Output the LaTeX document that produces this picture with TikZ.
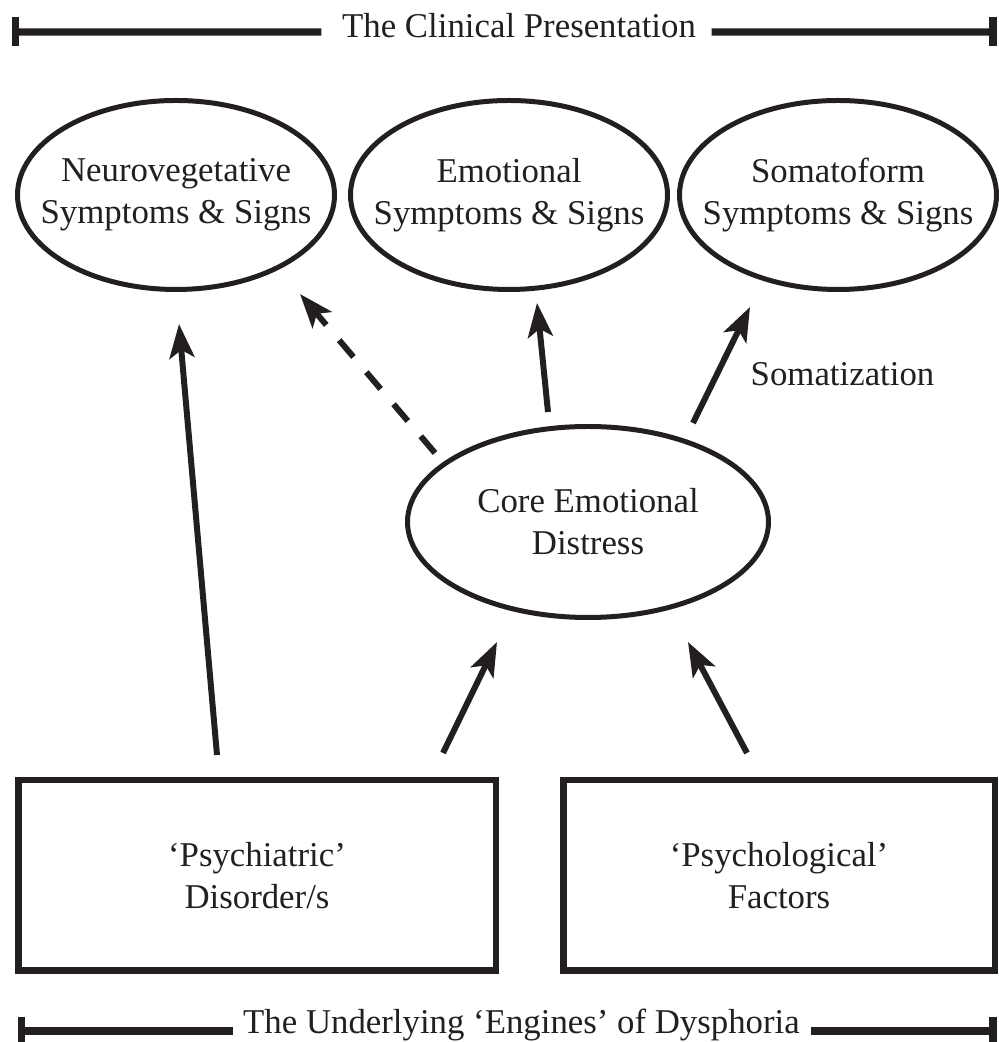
\documentclass[tikz,border=0pt]{standalone}
\usepackage{fontspec}
\setmainfont{Liberation Serif}
\usetikzlibrary{arrows.meta,
                shapes.geometric}
\definecolor{ink}{RGB}{35,31,32}

\begin{document}
\begin{tikzpicture}[
        font=\fontsize{9.9}{12}\selectfont,
        text=ink,
        symptom/.style={ellipse, draw=ink, line width=1.42pt, minimum width=3.17cm, minimum height=1.89cm, inner xsep=-0.3cm, inner ysep=0pt, align=center},
        distress/.style={ellipse, draw=ink, line width=1.42pt, minimum width=3.61cm, minimum height=1.91cm, inner sep=0pt, align=center},
        engine/.style={rectangle, draw=ink, line width=1.85pt, minimum height=1.905cm, align=center},
        arr/.style={draw=ink, line width=1.7pt, -{Stealth[length=0.34cm, width=0.25cm, inset=0.08cm]}},
        bracket/.style={draw=ink, line width=2pt, -{Bar[width=0.29cm]}}
    ]
        \useasboundingbox (0,0) rectangle (9.98,10.42);

        % top and bottom brackets
        \node [anchor=base, inner xsep=0.1cm] (clinical) at (5.19,10.04) {The Clinical Presentation};
        \coordinate (clinL) at (0.12,10.10);
        \coordinate (clinR) at (9.965,10.10);
        \draw [bracket, shorten <=0.1cm] ([yshift=0.06cm]clinical.base west) -- (clinL);
        \draw [bracket, shorten <=0.05cm] ([yshift=0.06cm]clinical.base east) -- (clinR);

        \node [anchor=base, inner xsep=0.1cm] (engines) at (5.215,0.09) {The Underlying ‘Engines’ of Dysphoria};
        \coordinate (engL) at (0.18,0.11);
        \coordinate (engR) at (9.965,0.11);
        \draw [bracket] ([yshift=0.02cm]engines.base west) -- (engL);
        \draw [bracket] ([yshift=0.02cm]engines.base east) -- (engR);

        % symptoms
        \node [symptom] (neuro) at (1.76,8.47) {Neurovegetative\\Symptoms \& Signs};
        \node [symptom] (emo) at (5.09,8.47) {Emotional\\Symptoms \& Signs};
        \node [symptom] (soma) at (8.38,8.47) {Somatoform\\Symptoms \& Signs};

        \node [distress] (core) at (5.88,5.20) {Core Emotional\\Distress};

        % engines
        \node [engine, minimum width=4.775cm] (psych) at (2.57,1.665) {‘Psychiatric’\\Disorder/s};
        \node [engine, minimum width=4.315cm] (factors) at (7.79,1.665) {‘Psychological’\\Factors};

        \draw [arr] ([shift={(-0.40,0.22)}]psych.north) -- ([shift={(0.03,-0.32)}]neuro.south);
        \draw [arr] ([shift={(1.86,0.24)}]psych.north) -- ([shift={(-0.91,-0.22)}]core.south);
        \draw [arr] ([shift={(-0.32,0.24)}]factors.north) -- ([shift={(1.00,-0.22)}]core.south);
        \draw [arr] ([shift={(-0.40,0.12)}]core.north) -- ([shift={(0.28,-0.11)}]emo.south);
        \draw [arr] ([shift={(1.05,0.01)}]core.north) -- ([shift={(-0.88,-0.15)}]soma.south);
        \draw [arr, dash pattern=on 0.22cm off 0.20cm] ([shift={(0.30,0.69)}]core.west) -- ([shift={(1.24,-0.02)}]neuro.south);

        \node [anchor=base] (somatization) at (8.425,6.56) {Somatization};
    \end{tikzpicture}
\end{document}
